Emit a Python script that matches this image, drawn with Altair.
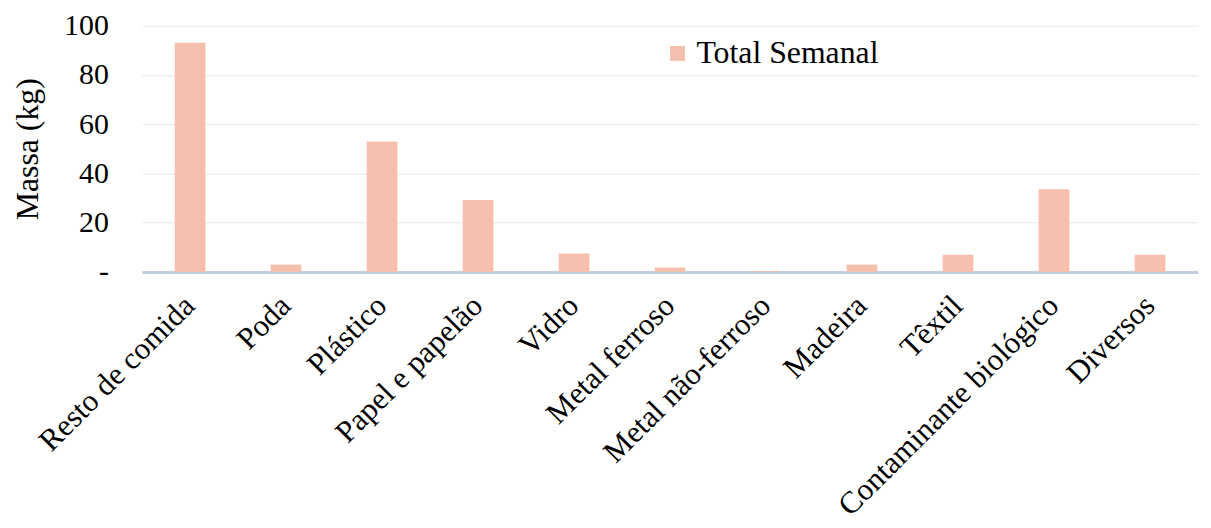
import altair as alt
import pandas as pd

categories = ["Resto de comida", "Poda", "Plástico", "Papel e papelão", "Vidro",
              "Metal ferroso", "Metal não-ferroso", "Madeira", "Têxtil",
              "Contaminante biológico", "Diversos"]
values = [93, 3, 53, 29.2, 7.5, 1.8, 0.4, 3, 7, 33.6, 7]
series = "Total Semanal"

df = pd.DataFrame({"categoria": categories, "massa": values, "serie": series})

FONT = "'Liberation Serif', 'Times New Roman', serif"
BAR = "#f5bfae"

chart = alt.Chart(df).mark_bar(color=BAR).encode(
    x=alt.X("categoria:N", sort=categories,
            scale=alt.Scale(paddingInner=0.68, paddingOuter=0.34),
            axis=alt.Axis(title=None, labelAngle=-45, labelAlign="right",
                          labelBaseline="middle", labelPadding=29,
                          labelFont=FONT, labelFontSize=31, labelColor="#000",
                          ticks=False, domainColor="#c3cfdf", domainWidth=3,
                          labelLimit=0, labelOverlap=False)),
    y=alt.Y("massa:Q", scale=alt.Scale(domain=[0, 100]),
            axis=alt.Axis(title="Massa (kg)", values=[0, 20, 40, 60, 80, 100],
                          labelExpr="datum.value == 0 ? '-' : datum.label",
                          labelFont=FONT, labelFontSize=30, labelColor="#000",
                          labelPadding=34, ticks=False, domain=False,
                          labelOverlap=False,
                          gridColor="#e8e8e8", gridWidth=1,
                          titleFont=FONT, titleFontSize=32, titleFontWeight="normal",
                          titleColor="#000", titleX=-115, titleBaseline="middle")),
    color=alt.Color("serie:N", scale=alt.Scale(domain=[series], range=[BAR]),
                    legend=alt.Legend(title=None, orient="none", legendX=523, legendY=12,
                                      padding=0, symbolType="square", symbolSize=225,
                                      symbolStrokeWidth=0, labelOffset=3, labelLimit=0,
                                      labelFont=FONT, labelFontSize=32, labelColor="#000"))
).properties(
    width=1063, height=248,
    autosize=alt.AutoSizeParams(type="none"),
    padding={"left": 135, "top": 16, "right": 5, "bottom": 254},
    background="#ffffff"
).configure_view(stroke=None)

chart.save("out.html", embed_options={"renderer": "svg", "actions": False})
